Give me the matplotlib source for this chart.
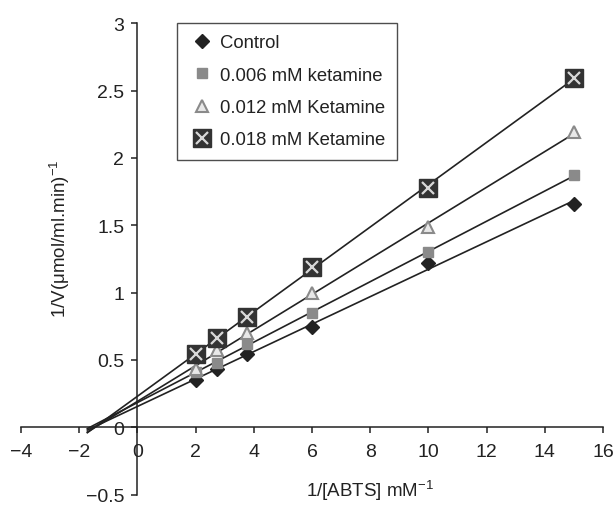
#!/usr/bin/env python3

import numpy as np
import matplotlib

matplotlib.use('Agg')
import matplotlib.pyplot as plt
from matplotlib.ticker import FuncFormatter

plt.rcParams['font.family'] = ['Liberation Sans', 'DejaVu Sans']
plt.rcParams['mathtext.fontset'] = 'custom'
plt.rcParams['mathtext.rm'] = 'Liberation Sans'

# 1/[ABTS] values and 1/V for each ketamine level
inv_abts = [2, 2.75, 3.75, 6, 10, 15]
control = [0.35, 0.435, 0.54, 0.745, 1.22, 1.66]
ket_006 = [0.41, 0.48, 0.62, 0.85, 1.30, 1.87]
ket_012 = [0.435, 0.57, 0.70, 1.00, 1.49, 2.19]
ket_018 = [0.54, 0.665, 0.815, 1.19, 1.78, 2.595]

labels = ['Control', '0.006 mM ketamine', '0.012 mM Ketamine', '0.018 mM Ketamine']
x_ticks = list(range(-4, 17, 2))
y_ticks = [-0.5, 0, 0.5, 1, 1.5, 2, 2.5, 3]

ink = '#222222'
grey = '#8a8a8a'


def fmt(v, pos):
    return ('%g' % v).replace('-', '\u2212')


def plot():
    fig = plt.figure(figsize=(6.16, 5.06), dpi=100)
    ax = fig.add_axes([21 / 616, 1 - 495.5 / 506, 582 / 616, 471.2 / 506])

    x = np.array(inv_abts)
    line_x = np.array([-1.72, 15])
    for ys in (control, ket_006, ket_012, ket_018):
        k, b = np.polyfit(x, ys, 1)
        ax.plot(line_x, k * line_x + b, color=ink, lw=1.2, zorder=2)

    h0, = ax.plot(x, control, 'D', ms=7.5, color=ink, mec=ink, zorder=3)
    h1, = ax.plot(x, ket_006, 's', ms=7, color=grey, mec=grey, zorder=3)
    h2, = ax.plot(x, ket_012, '^', ms=8.5, mfc='#e8e8e8', mec=grey, mew=1.5, zorder=3)
    h3a, = ax.plot(x, ket_018, 's', ms=12.5, color='#333333', mec='#333333', zorder=3)
    h3b, = ax.plot(x, ket_018, 'x', ms=9, color='#d8d8d8', mew=1.6, zorder=4)

    ax.set_xlim(-4, 16)
    ax.set_ylim(-0.5, 3)
    ax.spines['left'].set_position(('data', 0))
    ax.spines['bottom'].set_position(('data', 0))
    ax.spines['top'].set_visible(False)
    ax.spines['right'].set_visible(False)
    for s in ('left', 'bottom'):
        ax.spines[s].set_color(ink)
        ax.spines[s].set_linewidth(1.1)

    ax.set_xticks(x_ticks)
    ax.set_yticks(y_ticks)
    ax.xaxis.set_major_formatter(FuncFormatter(fmt))
    ax.yaxis.set_major_formatter(FuncFormatter(fmt))
    ax.tick_params(axis='both', direction='out', length=4.5, width=1.1,
                   color=ink, labelcolor=ink, labelsize=14)
    ax.tick_params(axis='x', pad=7)
    ax.tick_params(axis='y', pad=5)

    ax.set_xlabel('1/[ABTS] mM$^{-1}$', fontsize=13.5, color=ink)
    ax.xaxis.set_label_coords(0.6, 0.036)
    ax.set_ylabel('1/V(\u03bcmol/ml.min)$^{-1}$', fontsize=13.5, color=ink)
    ax.yaxis.set_label_coords(0.088, 0.545)

    leg = ax.legend([h0, h1, h2, (h3a, h3b)], labels,
                    loc='upper left', bbox_to_anchor=(177 / 616, 1 - 24 / 506),
                    bbox_transform=fig.transFigure, borderaxespad=0,
                    fontsize=13.3, frameon=True, fancybox=False,
                    handlelength=1.5, handletextpad=0.2, labelspacing=0.83,
                    borderpad=0.62)
    leg.get_frame().set_edgecolor(ink)
    leg.get_frame().set_linewidth(1.0)
    for t in leg.get_texts():
        t.set_color(ink)

    plt.savefig('out.png', dpi=100)


if __name__ == '__main__':
    plot()
